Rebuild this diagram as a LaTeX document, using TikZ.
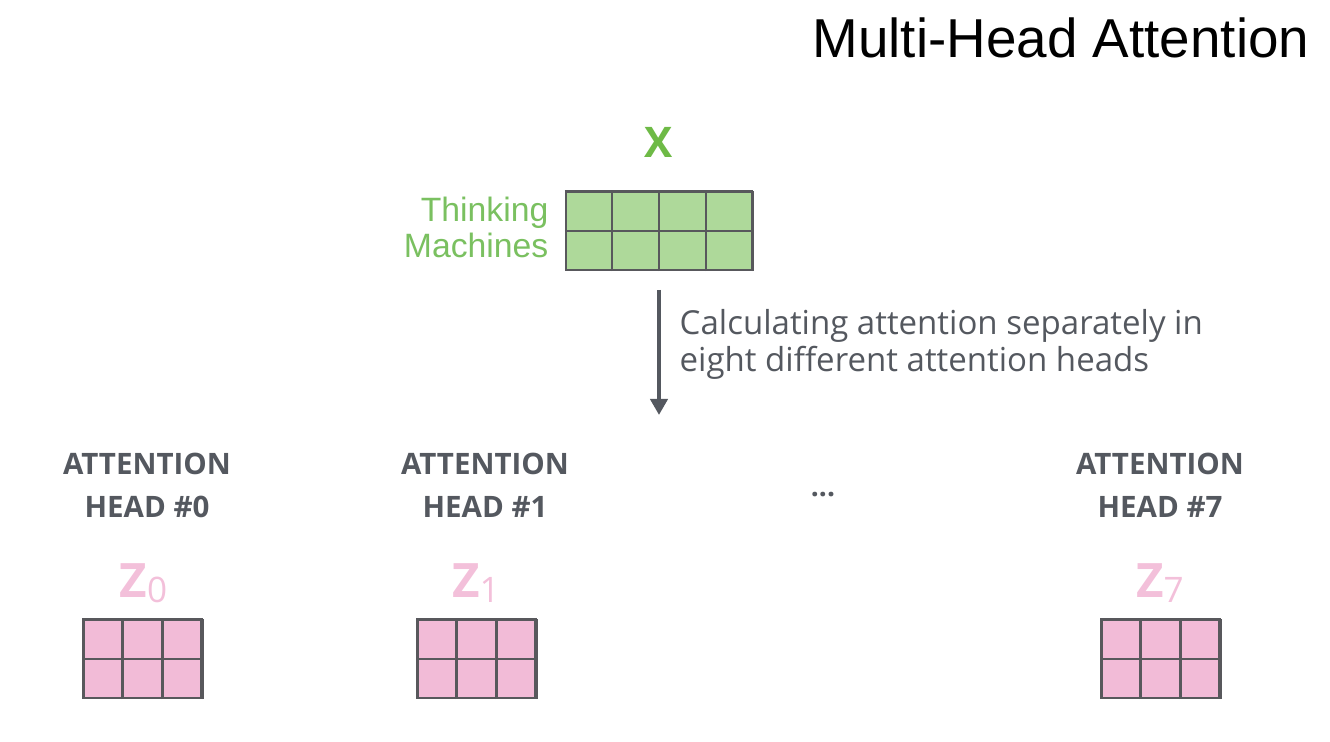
\documentclass[tikz,border=0pt]{standalone}
\usepackage{fontspec}
\setmainfont{Open Sans}
\newfontfamily\titlefont{Liberation Sans}
\newfontfamily\headfont{Open Sans}
\usetikzlibrary{calc,arrows.meta}
\definecolor{xfill}{RGB}{174,217,154}
\definecolor{xtext}{RGB}{122,192,96}
\definecolor{xbold}{RGB}{110,186,70}
\definecolor{zfill}{RGB}{242,187,215}
\definecolor{ztext}{RGB}{243,192,218}
\definecolor{cellline}{RGB}{88,88,92}
\definecolor{headgray}{RGB}{84,88,95}
\def\splitcells(#1)(#2:#3)% Syntax: (matrix node) (columns:rows)
{ \foreach \k in {1,...,#2} \draw[cellline, line width=0.6pt] ($(#1.south west)!\k/#2!(#1.south east)$) -- ($(#1.north west)!\k/#2!(#1.north east)$);
  \foreach \k in {1,...,#3} \draw[cellline, line width=0.6pt] ($(#1.south west)!\k/#3!(#1.north west)$) -- ($(#1.south east)!\k/#3!(#1.north east)$); }
\tikzset{
	every node/.style={inner sep=0pt},
	xcells/.style={draw=cellline, line width=0.6pt, fill=xfill, minimum width=1.86cm, minimum height=0.78cm},
	zcells/.style={draw=cellline, line width=0.6pt, fill=zfill, minimum width=1.18cm, minimum height=0.78cm},
	headtxt/.style={anchor=base, text=headgray, font=\headfont\bfseries\fontsize{8.4}{9}\selectfont},
	zlabel/.style={anchor=base, text=ztext, font=\headfont\bfseries\fontsize{13.5}{14}\selectfont},
	wordtxt/.style={anchor=base east, text=xtext, font=\titlefont\fontsize{9.6}{10}\selectfont},
	calctxt/.style={anchor=base west, text=headgray, font=\fontsize{9.4}{10}\selectfont}
}
\newcommand{\zsub}[1]{\raisebox{-1.4pt}{\fontsize{10}{10}\selectfont\mdseries #1}}
\begin{document}
\begin{tikzpicture}
	\useasboundingbox (0,0) rectangle (13.3,7.42);
	
	%title
	\node[anchor=base east, font=\titlefont\fontsize{15.6}{18}\selectfont] (title) at (13.10,6.84) {Multi-Head Attention};
	
	%input X
	\node[anchor=base, text=xbold, font=\bfseries\fontsize{12}{12}\selectfont] (xlabel) at (6.59,5.84) {X};
	\node[xcells] (xmat) at (6.59,5.11) {};
	\splitcells(xmat)(4:2)
	\node[wordtxt] (thinking) at (5.49,5.20) {Thinking};
	\node[wordtxt] (machines) at (5.49,4.84) {Machines};
	
	%arrow down to the heads
	\coordinate (arrtop) at (6.59,4.52);
	\coordinate (arrbot) at (6.59,3.27);
	\draw[headgray, line width=1.15pt, -{Triangle[width=0.17cm, length=0.16cm]}] (arrtop) -- (arrbot);
	\node[calctxt] (calcA) at (6.79,4.07) {Calculating attention separately in};
	\node[calctxt] (calcB) at (6.79,3.70) {eight different attention heads};
	
	%Head 0
	\node[headtxt] (att0) at (1.47,2.67) {ATTENTION};
	\node[headtxt] (head0) at (1.47,2.24) {HEAD \#0};
	\node[zlabel] (z0) at (1.435,1.44) {Z\zsub{0}};
	\node[zcells] (zmat0) at (1.425,0.83) {};
	\splitcells(zmat0)(3:2)
	
	%Head 1
	\node[headtxt] (att1) at (4.85,2.67) {ATTENTION};
	\node[headtxt] (head1) at (4.85,2.24) {HEAD \#1};
	\node[zlabel] (z1) at (4.76,1.44) {Z\zsub{1}};
	\node[zcells] (zmat1) at (4.765,0.83) {};
	\splitcells(zmat1)(3:2)
	
	%dots
	\node[text=headgray, font=\headfont\bfseries\fontsize{8}{8}\selectfont] (dots) at (8.23,2.47) {...};
	
	%Head 7
	\node[headtxt] (att7) at (11.60,2.67) {ATTENTION};
	\node[headtxt] (head7) at (11.60,2.24) {HEAD \#7};
	\node[zlabel] (z7) at (11.60,1.44) {Z\zsub{7}};
	\node[zcells] (zmat7) at (11.605,0.83) {};
	\splitcells(zmat7)(3:2)
	
\end{tikzpicture}
\end{document}
